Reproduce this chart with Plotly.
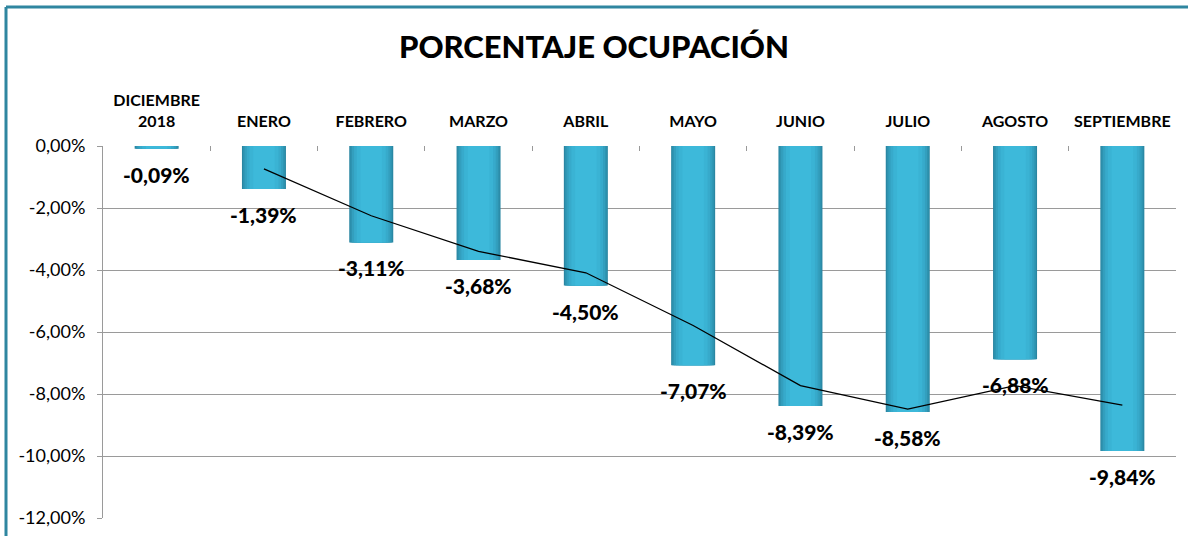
import plotly.graph_objects as go

categories = ["DICIEMBRE<br>2018", "ENERO", "FEBRERO", "MARZO", "ABRIL", "MAYO",
              "JUNIO", "JULIO", "AGOSTO", "SEPTIEMBRE"]
values = [-0.09, -1.39, -3.11, -3.68, -4.50, -7.07, -8.39, -8.58, -6.88, -9.84]
value_labels = ["-0,09%", "-1,39%", "-3,11%", "-3,68%", "-4,50%", "-7,07%",
                "-8,39%", "-8,58%", "-6,88%", "-9,84%"]
trend_categories = categories[1:]
trend_values = [-0.74, -2.25, -3.40, -4.09, -5.79, -7.73, -8.49, -7.73, -8.36]
tick_values = [0, -2, -4, -6, -8, -10, -12]
tick_labels = ["0,00%", "-2,00%", "-4,00%", "-6,00%", "-8,00%", "-10,00%", "-12,00%"]

FONT = "Lato"
fig = go.Figure()

# Cylinder-like shading via overlaid bars
shades = [(0.41, "#2a86a2"), (0.39, "#2e93b0"), (0.36, "#339fbe"),
          (0.32, "#37aacb"), (0.27, "#3ab3d4"), (0.20, "#3db9da")]
for width, color in shades:
    fig.add_trace(go.Bar(x=categories, y=values, width=width, marker_color=color,
                         marker_line_width=0, hoverinfo="skip", showlegend=False))

fig.add_trace(go.Scatter(x=trend_categories, y=trend_values, mode="lines",
                         line=dict(color="black", width=1.3), showlegend=False))

for c, v, t in zip(categories, values, value_labels):
    fig.add_annotation(x=c, y=v, text=t, showarrow=False,
                       yanchor="top", yshift=-11,
                       font=dict(family=FONT, size=21, color="black", weight=900))

fig.update_layout(
    width=1188, height=536,
    margin=dict(l=103, r=12, t=146, b=18, autoexpand=False),
    paper_bgcolor="white", plot_bgcolor="white",
    barmode="overlay",
    title=dict(text="PORCENTAJE OCUPACIÓN", x=0.5, xanchor="center",
               y=1 - 47 / 536, yanchor="middle",
               font=dict(family=FONT, size=31, color="black", weight=900)),
    xaxis=dict(side="top", type="category", tickson="boundaries", ticks="inside",
               ticklen=5, tickcolor="#999999", showgrid=False, showline=False,
               ticklabelstandoff=15, automargin=False, tickangle=0,
               tickfont=dict(family=FONT, size=16, color="black", weight="bold")),
    yaxis=dict(range=[-12, 0], tickvals=tick_values, ticktext=tick_labels,
               showgrid=True, gridcolor="#9a9a9a", gridwidth=1,
               showline=True, linecolor="#9a9a9a", linewidth=1,
               ticks="outside", ticklen=5, tickcolor="#9a9a9a",
               zeroline=False, automargin=False, ticklabelstandoff=8,
               tickfont=dict(family=FONT, size=18, color="black")),
)

# Teal frame on left and top
x_left = -97 / 1073
y_top = 1 + (146 - 7) / 372
fig.add_shape(type="line", xref="paper", yref="paper", x0=x_left, x1=x_left,
              y0=-0.2, y1=y_top, line=dict(color="#2f86a0", width=3))
fig.add_shape(type="line", xref="paper", yref="paper", x0=x_left, x1=1.05,
              y0=y_top, y1=y_top, line=dict(color="#2f86a0", width=3))

fig.write_html("out.html", config={"displayModeBar": False},
               post_script="document.body.style.margin='0';")
